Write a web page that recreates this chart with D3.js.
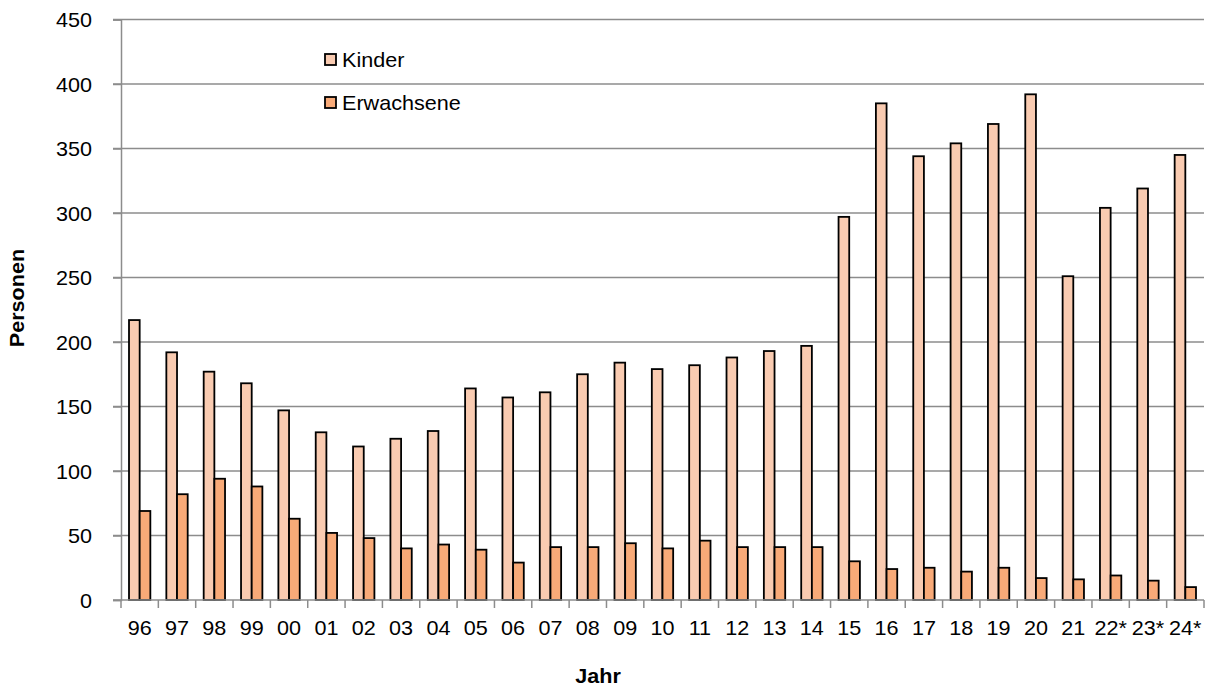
<!DOCTYPE html>
<html>
<head>
  <meta charset="utf-8">
  <script src="https://d3js.org/d3.v7.min.js"></script>
  <style>
    body { margin: 0; background: #fff; }
    text { font-family: "Liberation Sans", Arial, sans-serif; fill: #000; }
    .grid line { stroke: #8c8c8c; stroke-width: 1.5px; }
    .bar { stroke: #000; stroke-width: 1.8px; }
  </style>
</head>
<body>
  <div id="chart"></div>
  <script>
    var years = ["96", "97", "98", "99", "00", "01", "02", "03", "04", "05", "06", "07", "08", "09",
      "10", "11", "12", "13", "14", "15", "16", "17", "18", "19", "20", "21", "22*", "23*", "24*"];
    var kinder = [217, 192, 177, 168, 147, 130, 119, 125, 131, 164, 157, 161, 175, 184,
      179, 182, 188, 193, 197, 297, 385, 344, 354, 369, 392, 251, 304, 319, 345];
    var erwachsene = [69, 82, 94, 88, 63, 52, 48, 40, 43, 39, 29, 41, 41, 44,
      40, 46, 41, 41, 41, 30, 24, 25, 22, 25, 17, 16, 19, 15, 10];
    var seriesNames = ["Kinder", "Erwachsene"];
    var colors = ["#f9cbb1", "#f8aa78"];
    var yTicks = [0, 50, 100, 150, 200, 250, 300, 350, 400, 450];

    var width = 1208, height = 688;
    var plotLeft = 121, plotRight = 1204, plotTop = 19.5, plotBottom = 600;
    var fs = "20px";
    var sx = 1.08; // text in the original is a bit wider than the font

    // stretch a text horizontally around its own x
    function widen(sel) {
      sel.each(function () {
        var t = d3.select(this);
        var x0 = +t.attr("x") || 0;
        t.attr("transform", "translate(" + x0 + ",0) scale(" + sx + ",1) translate(" + (-x0) + ",0)");
      });
    }

    var svg = d3.select("#chart").append("svg")
      .attr("width", width)
      .attr("height", height);

    var x = d3.scaleBand().domain(years).range([plotLeft, plotRight]).paddingInner(0).paddingOuter(0);
    var y = d3.scaleLinear().domain([0, 450]).range([plotBottom, plotTop]);

    // two bars per year, gap 150% of a bar
    var barW = x.bandwidth() / 3.5;
    var xs = d3.scaleBand().domain(seriesNames).range([barW * 0.75, barW * 2.75]);

    // gridlines
    svg.append("g").attr("class", "grid")
      .selectAll("line")
      .data(yTicks.slice(1))
      .enter().append("line")
      .attr("x1", plotLeft - 8).attr("x2", plotRight)
      .attr("y1", function (d) {return y(d);})
      .attr("y2", function (d) {return y(d);});

    // y axis
    var yAxis = svg.append("g")
      .attr("transform", "translate(" + plotLeft + ",0)")
      .call(d3.axisLeft(y).tickValues(yTicks).tickSize(8).tickPadding(21));
    yAxis.select(".domain").attr("stroke", "#8c8c8c").attr("stroke-width", 1.5);
    yAxis.selectAll(".tick line").attr("stroke", "#8c8c8c").attr("stroke-width", 1.5);
    yAxis.selectAll(".tick text").style("font-size", fs).attr("dy", "0.36em").call(widen);
    yAxis.attr("font-family", null).attr("font-size", null);

    // bars
    var data = [];
    years.forEach(function (yr, i) {
      data.push({year: yr, key: "Kinder", value: kinder[i], color: colors[0]});
      data.push({year: yr, key: "Erwachsene", value: erwachsene[i], color: colors[1]});
    });

    svg.append("g")
      .selectAll("rect")
      .data(data)
      .enter().append("rect")
      .attr("class", "bar")
      .attr("x", function (d) {return x(d.year) + xs(d.key);})
      .attr("width", xs.bandwidth())
      .attr("y", function (d) {return y(d.value);})
      .attr("height", function (d) {return y(0) - y(d.value);})
      .attr("fill", function (d) {return d.color;});

    // x axis
    var xAxisG = svg.append("g").attr("transform", "translate(0," + plotBottom + ")");
    xAxisG.append("line")
      .attr("x1", plotLeft - 8).attr("x2", plotRight)
      .attr("stroke", "#8c8c8c").attr("stroke-width", 1.5);
    xAxisG.selectAll(".xtick")
      .data(years.concat(["end"]))
      .enter().append("line")
      .attr("x1", function (d, i) {return plotLeft + i * x.step();})
      .attr("x2", function (d, i) {return plotLeft + i * x.step();})
      .attr("y1", 0).attr("y2", 8)
      .attr("stroke", "#8c8c8c").attr("stroke-width", 1.5);
    xAxisG.selectAll(".xlabel")
      .data(years)
      .enter().append("text")
      .attr("x", function (d) {return x(d) + x.bandwidth() / 2;})
      .attr("y", 35)
      .attr("text-anchor", "middle")
      .style("font-size", fs)
      .text(function (d) {return d;})
      .call(widen);

    // axis titles
    svg.append("text")
      .attr("transform", "translate(24,298) rotate(-90) scale(" + sx + ",1)")
      .attr("text-anchor", "middle")
      .style("font-size", fs).style("font-weight", "bold")
      .text("Personen");
    svg.append("text")
      .attr("x", 598).attr("y", 683)
      .attr("text-anchor", "middle")
      .style("font-size", fs).style("font-weight", "bold")
      .text("Jahr")
      .call(widen);

    // legend
    var legend = svg.append("g").selectAll("g")
      .data(seriesNames)
      .enter().append("g")
      .attr("transform", function (d, i) {return "translate(325," + (54 + i * 43) + ")";});
    legend.append("rect")
      .attr("width", 11).attr("height", 11)
      .attr("fill", function (d, i) {return colors[i];})
      .attr("stroke", "#000").attr("stroke-width", 1.8);
    legend.append("text")
      .attr("x", 17).attr("y", 12.5)
      .style("font-size", fs)
      .text(function (d) {return d;})
      .call(widen);
  </script>
</body>
</html>
